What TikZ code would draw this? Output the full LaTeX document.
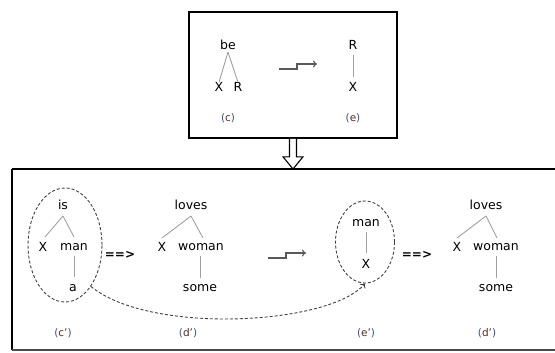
\documentclass[tikz,border=0pt]{standalone}
\usepackage{fontspec}
\setmainfont{DejaVu Sans}
\usetikzlibrary{shapes.geometric,arrows.meta,calc}
\definecolor{treeline}{HTML}{A0A0A0}
\definecolor{parcol}{HTML}{3A4F9A}
\definecolor{letcol}{HTML}{5A2A1A}
\newcommand{\lbl}[1]{{\color{parcol}(}{\color{letcol}#1}{\color{parcol})}}
\tikzset{
  word/.style={inner sep=0pt, font=\fontsize{12.5bp}{14bp}\selectfont, anchor=center},
  tag/.style={inner sep=0pt, font=\fontsize{10.5bp}{12bp}\selectfont},
  branch/.style={draw=treeline, line width=0.9bp},
  frame/.style={draw=black, line width=1.6bp},
  stepline/.style={draw=black!65, line width=1.1bp, -{To[length=4bp,width=7bp]}},
  circ/.style={ellipse, draw=black!75, dashed, line width=0.9bp, dash pattern=on 3bp off 2bp, inner sep=0pt},
  yields/.style={inner sep=0pt, font=\fontsize{12bp}{14bp}\selectfont\bfseries}
}
\begin{document}
\begin{tikzpicture}[x=1bp,y=-1bp]
\useasboundingbox (0,0) rectangle (555,352);
% frames
\node[frame, minimum width=208bp, minimum height=126bp, inner sep=0pt] (topbox) at (293,75) {};
\draw[frame] (12,169) -- (560,169);
\draw[frame] (12,169) -- (12,350);
\draw[draw=black!70, line width=1.2bp] (12,350) -- (560,350);
\coordinate (botnorth) at (293,169);
% hollow down arrow
\draw[line width=1.1bp, fill=white]
  ($(topbox.south)+(-3.5,0)$) -- ($(topbox.south)+(-3.5,18)$) -- ($(topbox.south)+(-10,18)$)
  -- (botnorth) -- ($(topbox.south)+(10,18)$) -- ($(topbox.south)+(3.5,18)$) -- ($(topbox.south)+(3.5,0)$);
% top box content
\node[word] (be) at (228,45) {be};
\node[word] (x1) at (219,87) {X};
\node[word] (r1) at (238,87) {R};
\draw[branch] (be.south) ++(0,2) coordinate (bes) -- (x1.north);
\draw[branch] (bes) -- (r1.north);
\node[tag] (c) at (228,118) {\lbl{c}};
\coordinate (s1) at (279,69);
\coordinate (s2) at (297,64);
\coordinate (s3) at (317,64);
\draw[stepline] (s1) -| (s2) -- (s3);
\node[word] (r2) at (353,45) {R};
\node[word] (x2) at (353,87) {X};
\draw[branch] (r2) ++(0,10) -- ($(x2)+(0,-10)$);
\node[tag] (e) at (353,118) {\lbl{e}};
% bottom: c'
\node[word] (is) at (63,205) {is};
\node[word] (x3) at (43,247) {X};
\node[word] (man) at (74,247) {man};
\node[word] (a) at (73,288) {a};
\coordinate (iss) at (63,216);
\draw[branch] (iss) -- (45,237);
\draw[branch] (iss) -- (74,237);
\draw[branch] (74,256) -- (74,277);
\node[circ, minimum width=74bp, minimum height=114bp] (ell1) at (65,245) {};
\node[yields] (y1) at (120,255) {==>};
\node[tag] (cp) at (63,333) {\lbl{c'}};
% d'
\node[word] (lv1) at (191,205) {loves};
\node[word] (x4) at (162,247) {X};
\node[word] (wm1) at (201,247) {woman};
\node[word] (sm1) at (200,288) {some};
\coordinate (lv1s) at (191,216);
\draw[branch] (lv1s) -- (162,238);
\draw[branch] (lv1s) -- (203,238);
\draw[branch] (200,256) -- (200,278);
\node[tag] (dp1) at (188,333) {\lbl{d'}};
% step arrow bottom
\coordinate (t1) at (268,258);
\coordinate (t2) at (286,253);
\coordinate (t3) at (306,253);
\draw[stepline] (t1) -| (t2) -- (t3);
% e'
\node[circ, minimum width=59bp, minimum height=82bp] (ell2) at (365,242) {};
\node[word] (man2) at (366,223) {man};
\node[word] (x5) at (366,264) {X};
\draw[branch] (366,232) -- (366,253);
\node[yields] (y2) at (417,255) {==>};
\node[tag] (ep) at (366,333) {\lbl{e'}};
% d' second
\node[word] (lv2) at (486,205) {loves};
\node[word] (x6) at (457,247) {X};
\node[word] (wm2) at (496,247) {woman};
\node[word] (sm2) at (496,288) {some};
\coordinate (lv2s) at (486,216);
\draw[branch] (lv2s) -- (457,238);
\draw[branch] (lv2s) -- (497,238);
\draw[branch] (496,256) -- (496,278);
\node[tag] (dp2) at (487,333) {\lbl{d'}};
% dashed connector
\draw[draw=black!75, line width=0.9bp, dash pattern=on 3bp off 2bp, -{To[length=4bp,width=7bp]}]
  (ell1.-58) .. controls (150,335) and (330,325) .. (ell2.south);
\end{tikzpicture}
\end{document}
